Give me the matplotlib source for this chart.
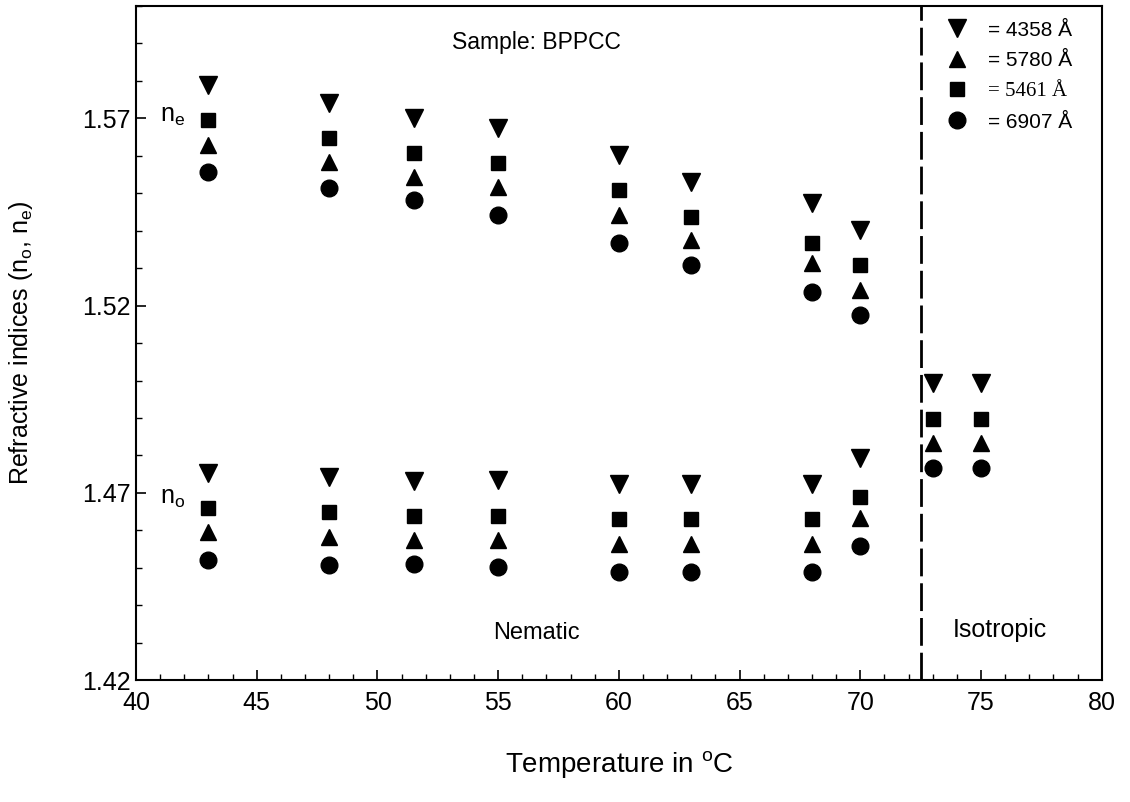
import matplotlib
matplotlib.use("Agg")
import matplotlib.pyplot as plt
from matplotlib.ticker import MultipleLocator
from matplotlib.lines import Line2D

plt.rcParams['font.family'] = ['Liberation Sans', 'DejaVu Sans']
plt.rcParams['mathtext.fontset'] = 'custom'
plt.rcParams['mathtext.rm'] = 'Liberation Sans'
plt.rcParams['mathtext.it'] = 'Liberation Sans:italic'

# Temperatures (deg C)
temp_nematic = [43, 48, 51.5, 55, 60, 63, 68, 70]
temp_iso = [73, 75]

# Extraordinary index n_e (nematic phase)
ne_4358 = [1.5788, 1.5740, 1.5700, 1.5674, 1.5602, 1.5529, 1.5473, 1.5401]
ne_5461 = [1.5695, 1.5647, 1.5607, 1.5580, 1.5508, 1.5436, 1.5367, 1.5308]
ne_5780 = [1.5628, 1.5583, 1.5543, 1.5516, 1.5441, 1.5375, 1.5313, 1.5241]
ne_6907 = [1.5556, 1.5513, 1.5481, 1.5441, 1.5367, 1.5308, 1.5236, 1.5174]

# Ordinary index n_o (nematic phase)
no_4358 = [1.4753, 1.4742, 1.4731, 1.4734, 1.4723, 1.4723, 1.4723, 1.4793]
no_5461 = [1.4659, 1.4648, 1.4638, 1.4638, 1.4630, 1.4630, 1.4630, 1.4689]
no_5780 = [1.4595, 1.4582, 1.4574, 1.4574, 1.4563, 1.4563, 1.4563, 1.4632]
no_6907 = [1.4520, 1.4507, 1.4510, 1.4502, 1.4488, 1.4488, 1.4488, 1.4558]

# Isotropic phase
iso_4358 = [1.4993, 1.4993]
iso_5461 = [1.4897, 1.4897]
iso_5780 = [1.4833, 1.4833]
iso_6907 = [1.4766, 1.4766]

transition_temp = 72.5

legend_labels = ['= 4358 Å', '= 5780 Å', '= 5461 Å', '= 6907 Å']

fig = plt.figure(figsize=(11.3, 8.02), dpi=100)
ax = fig.add_axes([0.1204, 0.152, 0.8546, 0.8405])

styles = {
    '4358': dict(marker='v', ms=13),
    '5780': dict(marker='^', ms=12),
    '5461': dict(marker='s', ms=10.5),
    '6907': dict(marker='o', ms=12),
}
series = [
    ('4358', ne_4358, no_4358, iso_4358),
    ('5461', ne_5461, no_5461, iso_5461),
    ('5780', ne_5780, no_5780, iso_5780),
    ('6907', ne_6907, no_6907, iso_6907),
]
for key, ne, no, iso in series:
    st = styles[key]
    for xs, ys in ((temp_nematic, ne), (temp_nematic, no), (temp_iso, iso)):
        ax.plot(xs, ys, linestyle='none', color='black', mec='black', **st)

ax.axvline(transition_temp, color='black', lw=2, linestyle=(0, (10, 2.5)))

ax.set_xlim(40, 80)
ax.set_ylim(1.42, 1.60)
ax.set_xticks([40, 45, 50, 55, 60, 65, 70, 75, 80])
ax.set_yticks([1.42, 1.47, 1.52, 1.57])
ax.set_yticklabels(['1.42', '1.47', '1.52', '1.57'])
ax.xaxis.set_minor_locator(MultipleLocator(1))
ax.yaxis.set_minor_locator(MultipleLocator(0.01))
ax.tick_params(which='both', direction='in', top=False, right=False, labelsize=18)
ax.tick_params(which='major', length=7, width=1.2)
ax.tick_params(which='minor', length=4, width=1.0)
ax.tick_params(axis='x', pad=8)
ax.tick_params(axis='y', pad=4)
for sp in ax.spines.values():
    sp.set_linewidth(1.5)

ax.set_xlabel('Temperature in $^\\mathregular{o}$C', fontsize=20, labelpad=24)
ax.set_ylabel('Refractive indices (n$_\\mathregular{o}$, n$_\\mathregular{e}$)', fontsize=18, labelpad=34)

ax.text(56.6, 1.5903, 'Sample: BPPCC', fontsize=16.5, ha='center', va='center')
ax.text(56.6, 1.4325, 'Nematic', fontsize=17, ha='center', va='center')
ax.text(75.8, 1.4335, 'Isotropic', fontsize=18, ha='center', va='center')
ax.text(41.5, 1.5705, 'n$_\\mathregular{e}$', fontsize=18, ha='center', va='center')
ax.text(41.5, 1.4685, 'n$_\\mathregular{o}$', fontsize=18, ha='center', va='center')

handles = [
    Line2D([], [], linestyle='none', color='black', **styles['4358']),
    Line2D([], [], linestyle='none', color='black', **styles['5780']),
    Line2D([], [], linestyle='none', color='black', **styles['5461']),
    Line2D([], [], linestyle='none', color='black', **styles['6907']),
]
leg = ax.legend(handles, legend_labels, loc='upper right', frameon=False,
                fontsize=15, handletextpad=0.5, labelspacing=0.55,
                borderaxespad=0.3, bbox_to_anchor=(0.985, 1.0))
leg.get_texts()[2].set_family('Liberation Serif')

fig.savefig('out.png', dpi=100)
